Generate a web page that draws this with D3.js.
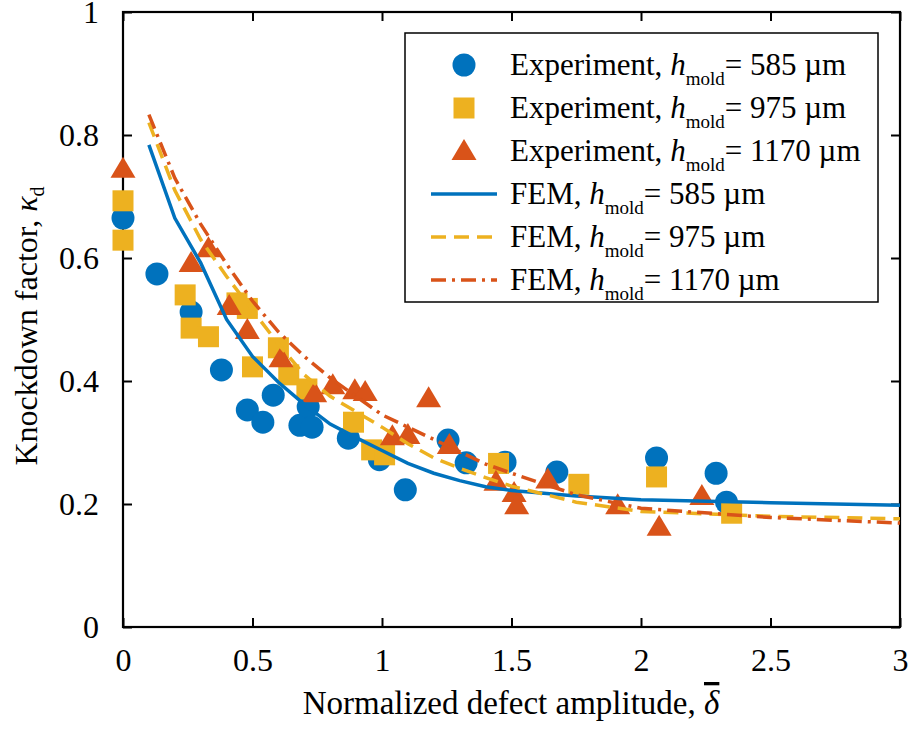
<!DOCTYPE html>
<html>
<head>
<meta charset="utf-8">
<script src="https://cdn.jsdelivr.net/npm/d3@7"></script>
<style>
  body { margin: 0; background: #fff; }
</style>
</head>
<body>
<div id="chart"></div>
<script>
// experiment data, [delta, kappa]
const exp585 = [[0,0.665],[0.131,0.574],[0.263,0.512],[0.38,0.418],[0.48,0.353],[0.54,0.333],[0.58,0.377],
  [0.683,0.328],[0.715,0.358],[0.73,0.325],[0.87,0.307],[0.99,0.272],[1.09,0.223],[1.255,0.304],[1.325,0.267],
  [1.475,0.268],[1.675,0.252],[2.06,0.275],[2.29,0.25],[2.33,0.203]];
const exp975 = [[0,0.693],[0,0.629],[0.24,0.54],[0.263,0.486],[0.33,0.472],[0.44,0.527],[0.48,0.518],[0.5,0.423],
  [0.6,0.454],[0.64,0.41],[0.71,0.387],[0.89,0.333],[0.96,0.288],[1.01,0.28],[1.45,0.266],[1.76,0.232],
  [2.06,0.244],[2.35,0.185]];
const exp1170 = [[0,0.745],[0.263,0.592],[0.33,0.616],[0.41,0.522],[0.48,0.483],[0.61,0.437],[0.74,0.38],[0.81,0.393],
  [0.895,0.385],[0.935,0.382],[1.04,0.31],[1.1,0.312],[1.18,0.372],[1.26,0.296],[1.44,0.236],[1.51,0.218],
  [1.52,0.198],[1.64,0.24],[1.91,0.198],[2.07,0.163],[2.235,0.213]];
// FEM curves
const femX    = [0.1,0.2,0.3,0.4,0.5,0.6,0.7,0.8,0.9,1.0,1.1,1.2,1.3,1.4,1.5,1.75,2.0,2.5,3.0];
const fem585  = [0.784,0.665,0.592,0.5,0.44,0.398,0.362,0.33,0.308,0.287,0.266,0.25,0.238,0.228,0.222,0.213,0.207,0.202,0.198];
const fem975  = [0.82,0.71,0.63,0.57,0.515,0.46,0.41,0.375,0.35,0.325,0.298,0.275,0.258,0.243,0.229,0.203,0.188,0.18,0.176];
const fem1170 = [0.833,0.73,0.655,0.59,0.53,0.48,0.44,0.405,0.375,0.345,0.325,0.305,0.285,0.265,0.25,0.215,0.193,0.178,0.169];
const xTicks = [0,0.5,1,1.5,2,2.5,3];
const yTicks = [0,0.2,0.4,0.6,0.8,1];
const heights = ['585','975','1170'];

const blue = '#0072BD', yellow = '#EDB120', orange = '#D95319';
const serif = 'Liberation Serif';

const svg = d3.select('#chart').append('svg')
  .attr('width', 909)
  .attr('height', 730)
  .attr('font-family', serif);

const x = d3.scaleLinear().domain([0,3]).range([123,900]);
const y = d3.scaleLinear().domain([0,1]).range([627,12]);

// axes (ticks inward, box on)
const fmt = d => d3.format('')(d);
const bottom = svg.append('g').attr('transform','translate(0,627)')
  .call(d3.axisBottom(x).tickValues(xTicks).tickFormat(fmt).tickSizeInner(-9).tickSizeOuter(0).tickPadding(21));
const left = svg.append('g').attr('transform','translate(123,0)')
  .call(d3.axisLeft(y).tickValues(yTicks).tickFormat(fmt).tickSizeInner(-9).tickSizeOuter(0).tickPadding(24));
svg.append('g').attr('transform','translate(0,12)')
  .call(d3.axisTop(x).tickValues(xTicks).tickFormat('').tickSizeInner(-9).tickSizeOuter(0));
svg.append('g').attr('transform','translate(900,0)')
  .call(d3.axisRight(y).tickValues(yTicks).tickFormat('').tickSizeInner(-9).tickSizeOuter(0));
svg.selectAll('g').attr('font-family', serif);
svg.selectAll('.domain').remove();
svg.selectAll('.tick line').attr('stroke','#000').attr('stroke-width',2);
svg.selectAll('.tick text').attr('font-size', 32);
bottom.selectAll('.tick text').attr('dy','0.71em');
left.selectAll('.tick text').attr('dy','0.34em');
svg.append('rect')
  .attr('x',123).attr('y',12).attr('width',777).attr('height',615)
  .attr('fill','none').attr('stroke','#000').attr('stroke-width',2.2);

// markers
function tri(cx, cy){
  return 'M' + cx + ',' + (cy-12) + 'L' + (cx+12.5) + ',' + (cy+9) + 'L' + (cx-12.5) + ',' + (cy+9) + 'Z';
}
const marks = svg.append('g');
marks.selectAll('circle').data(exp585).enter().append('circle')
  .attr('cx', d => x(d[0])).attr('cy', d => y(d[1])).attr('r', 11.5).attr('fill', blue);
marks.selectAll('rect').data(exp975).enter().append('rect')
  .attr('x', d => x(d[0]) - 10.5).attr('y', d => y(d[1]) - 10.5)
  .attr('width', 21).attr('height', 21).attr('fill', yellow);
marks.selectAll('path').data(exp1170).enter().append('path')
  .attr('d', d => tri(x(d[0]), y(d[1]))).attr('fill', orange);

// FEM lines
const line = d3.line().x(d => x(d[0])).y(d => y(d[1]));
const fems = [
  {vals: fem585, color: blue, dash: null},
  {vals: fem975, color: yellow, dash: '15,8'},
  {vals: fem1170, color: orange, dash: '15,6,3,6'}
];
fems.forEach(f => {
  svg.append('path')
    .datum(femX.map((v,i) => [v, f.vals[i]]))
    .attr('d', line)
    .attr('fill','none')
    .attr('stroke', f.color)
    .attr('stroke-width', 3.5)
    .attr('stroke-dasharray', f.dash);
});

// axis labels
const xl = svg.append('text')
  .attr('x', 511).attr('y', 714)
  .attr('text-anchor','middle')
  .attr('font-size', 33);
xl.append('tspan').text('Normalized defect amplitude, ');
xl.append('tspan').attr('font-style','italic').style('text-decoration','overline').text('δ');

const yl = svg.append('text')
  .attr('transform','translate(37,326) rotate(-90)')
  .attr('text-anchor','middle')
  .attr('font-size', 32);
yl.append('tspan').text('Knockdown factor, ');
yl.append('tspan').attr('font-style','italic').text('κ');
yl.append('tspan').attr('font-size', 20).attr('dy', 7).text('d');

// legend
const lg = svg.append('g');
lg.append('rect')
  .attr('x',405).attr('y',33).attr('width',473).attr('height',269)
  .attr('fill','#fff').attr('stroke','#000').attr('stroke-width',1.5);

const rows = [
  {label:'Experiment, ', h: heights[0], type:'circle', color: blue},
  {label:'Experiment, ', h: heights[1], type:'square', color: yellow},
  {label:'Experiment, ', h: heights[2], type:'tri', color: orange},
  {label:'FEM, ', h: heights[0], type:'line', color: blue, dash: null},
  {label:'FEM, ', h: heights[1], type:'line', color: yellow, dash: '15,8'},
  {label:'FEM, ', h: heights[2], type:'line', color: orange, dash: '15,6,3,6'}
];
rows.forEach((r, i) => {
  const cy = 65 + i * 43;
  if (r.type === 'circle') {
    lg.append('circle').attr('cx',464).attr('cy',cy).attr('r',11.5).attr('fill',r.color);
  } else if (r.type === 'square') {
    lg.append('rect').attr('x',453.5).attr('y',cy-10.5).attr('width',21).attr('height',21).attr('fill',r.color);
  } else if (r.type === 'tri') {
    lg.append('path').attr('d', tri(464, cy)).attr('fill', r.color);
  } else {
    lg.append('line').attr('x1',431).attr('x2',497).attr('y1',cy).attr('y2',cy)
      .attr('stroke',r.color).attr('stroke-width',3.5).attr('stroke-dasharray',r.dash);
  }
  const t = lg.append('text').attr('x',510).attr('y',cy+10).attr('font-size',31);
  t.append('tspan').text(r.label);
  t.append('tspan').attr('font-style','italic').text('h');
  t.append('tspan').attr('font-size',19).attr('dy',10).text('mold');
  t.append('tspan').attr('dy',-10).text('= ' + r.h + ' µm');
});

// serif everywhere
svg.selectAll('text, tspan').attr('font-family', serif).style('font-family', serif).attr('fill', '#000');
</script>
</body>
</html>
